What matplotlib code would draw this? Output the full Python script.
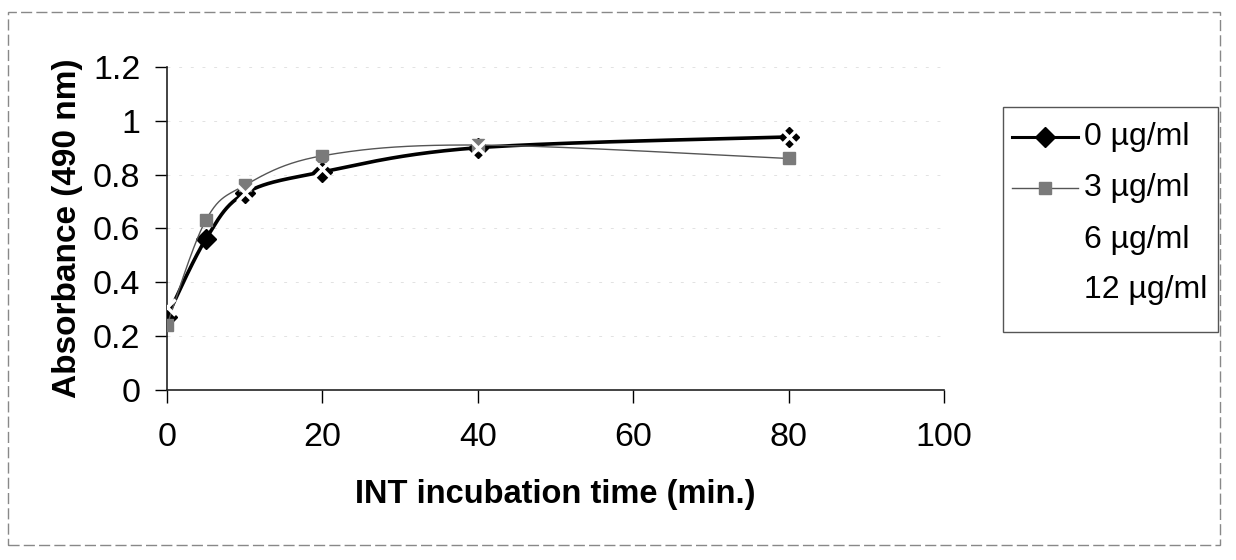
import numpy as np
import matplotlib
matplotlib.use("Agg")
import matplotlib.pyplot as plt
from matplotlib.patches import Rectangle

plt.rcParams['font.family'] = ['Liberation Sans', 'DejaVu Sans']

# INT incubation time (min.)
times = [0, 5, 10, 20, 40, 80]
# absorbance at 490 nm per INT concentration
abs_0 = [0.27, 0.56, 0.73, 0.81, 0.90, 0.94]
abs_3 = [0.24, 0.63, 0.76, 0.87, 0.91, 0.86]
abs_6 = [0.29, 0.60, 0.73, 0.82, 0.90, 0.94]
abs_12 = [0.31, 0.65, 0.75, 0.85, 0.91, 0.87]
labels = ["0 µg/ml", "3 µg/ml", "6 µg/ml", "12 µg/ml"]

y_ticks = [0, 0.2, 0.4, 0.6, 0.8, 1, 1.2]
y_ticklabels = ["0", "0.2", "0.4", "0.6", "0.8", "1", "1.2"]
x_ticks = [0, 20, 40, 60, 80, 100]


def smooth(xs, ys, n=40):
    # excel-like smoothed line: bezier segments, control points at 1/6
    p = np.column_stack([xs, ys]).astype(float)
    p = np.vstack([p[0], p, p[-1]])
    out = []
    for i in range(1, len(p) - 2):
        p0, p1, p2, p3 = p[i], p[i] + (p[i + 1] - p[i - 1]) / 6, p[i + 1] - (p[i + 2] - p[i]) / 6, p[i + 1]
        t = np.linspace(0, 1, n)[:, None]
        seg = (1 - t) ** 3 * p0 + 3 * (1 - t) ** 2 * t * p1 + 3 * (1 - t) * t ** 2 * p2 + t ** 3 * p3
        out.append(seg if i == 1 else seg[1:])
    out = np.vstack(out)
    return out[:, 0], out[:, 1]


fig = plt.figure(figsize=(12.36, 5.6), dpi=100)
ax = fig.add_axes([0.135, 0.3036, 0.629, 0.5768])

for v in y_ticks[1:]:
    ax.axhline(v, color="#e2e2e2", lw=0.7, ls=(0, (3, 9)), zorder=0)

sx, sy = smooth(times, abs_0)
ax.plot(sx, sy, color="black", lw=2.6, zorder=3)
ax.plot(times, abs_0, ls="none", marker="D", ms=10, color="black", zorder=3)

sx, sy = smooth(times, abs_3)
ax.plot(sx, sy, color="#555555", lw=1.0, zorder=4)
ax.plot(times, abs_3, ls="none", marker="s", ms=8, color="#7a7a7a", zorder=4)

# the two lighter series come out white on the scan
sx, sy = smooth(times, abs_6)
ax.plot(sx, sy, color="white", lw=0.8, zorder=2)
ax.plot(times[2:], abs_6[2:], ls="none", marker="x", ms=11, mew=2.5, color="white", zorder=5)
sx, sy = smooth(times, abs_12)
ax.plot(sx, sy, color="white", lw=0.8, zorder=2)
ax.plot(times[:1], abs_12[:1], ls="none", marker="x", ms=11, mew=2.5, color="white", zorder=5)

ax.set_xlim(0, 100)
ax.set_ylim(0, 1.2)
ax.set_xticks(x_ticks)
ax.set_yticks(y_ticks)
ax.set_yticklabels(y_ticklabels)
ax.tick_params(axis="x", direction="out", length=9, width=1, pad=14, labelsize=24.5)
ax.tick_params(axis="y", direction="out", length=9, width=1, pad=10, labelsize=24.5)
for s in ["top", "right"]:
    ax.spines[s].set_visible(False)
for s in ["left", "bottom"]:
    ax.spines[s].set_linewidth(1.2)
    ax.spines[s].set_color("#222222")

ax.set_xlabel("INT incubation time (min.)", fontsize=23.5, fontweight="bold", labelpad=19)
ax.set_ylabel("Absorbance (490 nm)", fontsize=24, fontweight="bold", labelpad=7)

# legend drawn by hand to keep the white entries as blank handles
fig.patches.append(Rectangle((1003 / 1236, 1 - 332 / 560), 215 / 1236, 225 / 560,
                             transform=fig.transFigure, fill=False, ec="#555555", lw=1.0))
leg_y = [137, 188, 240, 290]
for lab, yy, i in zip(labels, leg_y, range(4)):
    yf = 1 - yy / 560
    if i == 0:
        fig.add_artist(plt.Line2D([1012 / 1236, 1078 / 1236], [yf, yf], color="black", lw=2.2))
        fig.add_artist(plt.Line2D([1045 / 1236], [yf], marker="D", ms=10, color="black"))
    elif i == 1:
        fig.add_artist(plt.Line2D([1012 / 1236, 1078 / 1236], [yf, yf], color="#555555", lw=1.0))
        fig.add_artist(plt.Line2D([1045 / 1236], [yf], marker="s", ms=8, color="#7a7a7a"))
    fig.text(1084 / 1236, yf, lab, fontsize=23, va="center", ha="left")

# scanned frame around the chart
fig.patches.append(Rectangle((8 / 1236, 1 - 545 / 560), 1212 / 1236, 533 / 560,
                             transform=fig.transFigure, fill=False, ec="#888888", lw=1.0,
                             ls=(0, (8, 3))))

fig.savefig("out.png", dpi=100, facecolor="white")
